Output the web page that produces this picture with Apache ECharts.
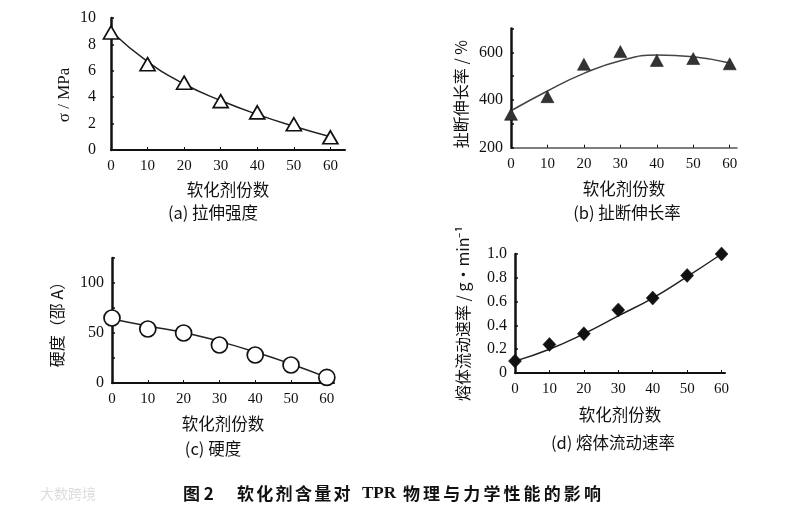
<!DOCTYPE html>
<html><head><meta charset="utf-8">
<script src="https://cdn.jsdelivr.net/npm/echarts@6/dist/echarts.min.js"></script>
<style>html,body{margin:0;padding:0;background:#fff}#c{width:794px;height:515px}</style>
</head><body><div id="c"></div>
<script>
var xParts = [0, 10, 20, 30, 40, 50, 60];
// (a) tensile strength
var strengthPts = [8.9, 6.5, 5.1, 3.7, 2.85, 1.95, 0.96];
var strengthFit = [9.0, 6.7, 5.0, 3.75, 2.7, 1.8, 1.0];
// (b) elongation at break
var elongPts = [340, 414, 550, 603, 566, 574, 552];
var elongFit = [355, 438, 512, 565, 589, 582, 555];
// (c) hardness
var hardPts = [65, 54, 50, 38, 28, 18, 5.6];
var hardFit = [64, 57, 50.6, 41.6, 31, 19, 5.6];
// (d) melt flow rate
var mfrPts = [0.10, 0.24, 0.33, 0.53, 0.63, 0.82, 1.0];
var mfrFit = [0.10, 0.20, 0.33, 0.48, 0.63, 0.81, 1.0];

var xName = '软化剂份数';
var subTitles = ['(a) 拉伸强度', '(b) 扯断伸长率', '(c) 硬度', '(d) 熔体流动速率'];
var yNames = ['σ / MPa', '扯断伸长率 / %', '硬度（邵 A）', '熔体流动速率 / g·min⁻¹'];
var figLabel = '图 2';
var captionA = '软化剂含量对';
var captionB = 'TPR';
var captionC = '物理与力学性能的影响';

function pairs(v){ return xParts.map(function(x,i){ return [x, v[i]]; }); }

var numFont = 'Liberation Serif';
var cjkFont = 'Noto Sans CJK SC';
var grids = [
  {left:111, top:18, width:234, height:132},
  {left:511, top:28.5, width:226, height:119.2},
  {left:112, top:258, width:222, height:125},
  {left:515, top:254, width:210, height:119}
];
var xMax = [64, 62, 62, 61];
var yCfg = [
  {min:0, max:10, interval:2},
  {min:200, max:700, interval:100},
  {min:0, max:125, interval:25},
  {min:0, max:1.0, interval:0.2}
];
var yGap = [38, 42, 47, 44];
var xGap = [31, 33, 32, 33];
var yPad = [[0,22,0,0],[0,12,0,0],[0,0,0,0],[0,0,0,0]];
var yMargin = [15, 8, 8, 8];

var xAxes = grids.map(function(g,i){
  return {
    type:'value', gridIndex:i, min:0, max:xMax[i], interval:10,
    name:xName, nameLocation:'middle', nameGap:xGap[i],
    nameTextStyle:{fontFamily:cjkFont, fontSize:16.5, color:'#111'},
    axisLine:{lineStyle:{color: i===1 ? '#555' : '#111', width: i===1?1.5:2}},
    axisTick:{inside:true, length:3, lineStyle:{color:'#111'}},
    axisLabel:{showMaxLabel:false, fontFamily:numFont, fontSize:15, color:'#111', margin:9,
      formatter:function(v){ return v % 10 === 0 ? String(v) : ''; }},
    splitLine:{show:false}
  };
});
var yAxes = grids.map(function(g,i){
  var c = yCfg[i];
  return {
    type:'value', gridIndex:i, min:c.min, max:c.max, interval:c.interval,
    name:yNames[i], nameLocation:'middle', nameGap:yGap[i], nameRotate:90,
    nameTextStyle:{fontFamily: i===0 ? numFont : cjkFont, fontSize: i===0 ? 17 : 16, color:'#111', padding:yPad[i]},
    axisLine:{lineStyle:{color:'#111', width:2.5}},
    axisTick:{inside:true, length:3, lineStyle:{color:'#111', width:1.5}},
    axisLabel:{fontFamily:numFont, fontSize:16, color:'#111', margin:yMargin[i],
      formatter:function(v){
        if (i===1) return (v % 200 === 0) ? String(v) : '';
        if (i===2) return (v % 50 === 0) ? String(v) : '';
        if (i===3) return v===0 ? '0' : v.toFixed(1);
        return String(v);
      }},
    splitLine:{show:false}
  };
});

var fits = [strengthFit, elongFit, hardFit, mfrFit];
var pts = [strengthPts, elongPts, hardPts, mfrPts];
var symbols = ['triangle','triangle','circle','diamond'];
var symSizes = [[15,13],[13,12],16,[13,14]];
var fills = ['#fff','#333','#fff','#111'];
var series = [];
for (var i=0;i<4;i++){
  series.push({type:'line', xAxisIndex:i, yAxisIndex:i, data:pairs(fits[i]), smooth:0.5,
    showSymbol:false, lineStyle:{color: i===1?'#444':'#222', width:1.5}, z:2, silent:true});
  series.push({type:'scatter', xAxisIndex:i, yAxisIndex:i, data:pairs(pts[i]),
    symbol:symbols[i], symbolSize:symSizes[i],
    itemStyle:{color:fills[i], borderColor:'#111', borderWidth: (i===0||i===2)?1.7:0.5, opacity:1}, z:3});
}

var subPos = [[213,213],[627,213],[213,449],[613,443]];
var graphics = subPos.map(function(p,i){
  return {type:'text', x:p[0], y:p[1], style:{text:subTitles[i], textAlign:'center', textVerticalAlign:'middle',
    font:'16.5px "' + cjkFont + '"', fill:'#111'}};
});
var capFont = 'bold 17px "' + cjkFont + '"';
graphics.push({type:'text', x:183, y:494, style:{text:figLabel, textVerticalAlign:'middle', font:capFont, fill:'#111'}});
function addChars(str, x0, pitch){
  for (var k=0;k<str.length;k++){
    graphics.push({type:'text', x:x0 + k*pitch, y:494, style:{text:str[k], textVerticalAlign:'middle', font:capFont, fill:'#111'}});
  }
}
addChars(captionA, 237, 19.3);
graphics.push({type:'text', x:362, y:494, style:{text:captionB, textVerticalAlign:'middle',
  font:'bold 17px "' + numFont + '"', fill:'#111'}});
addChars(captionC, 403, 20.1);
graphics.push({type:'text', x:40, y:494, style:{text:'大数跨境', textVerticalAlign:'middle',
  font:'14px "' + cjkFont + '"', fill:'#ddd'}});

var chart = echarts.init(document.getElementById('c'));
chart.setOption({
  animation:false,
  grid:grids,
  xAxis:xAxes,
  yAxis:yAxes,
  series:series,
  graphic:graphics
});
</script></body></html>
